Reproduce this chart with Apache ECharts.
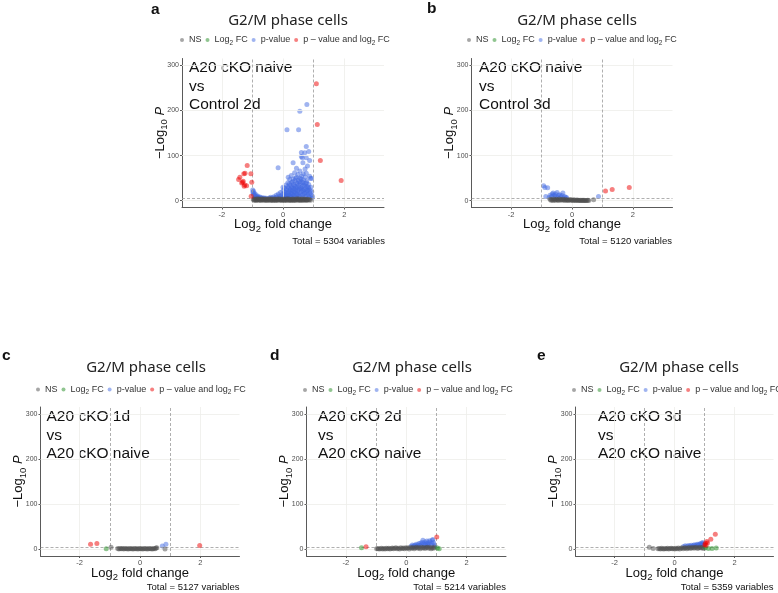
<!DOCTYPE html>
<html><head><meta charset="utf-8">
<script src="https://cdn.jsdelivr.net/npm/echarts@6/dist/echarts.min.js"></script>
<style>html,body{margin:0;padding:0;background:#fff}#c{width:778px;height:593px}</style>
</head><body><div id="c"></div>
<script>
// ---------------- data ----------------
const panelLetters = ['a','b','c','d','e'];
const titleText = 'G2/M phase cells';
const compareTop = ['A20 cKO naive','A20 cKO naive','A20 cKO 1d','A20 cKO 2d','A20 cKO 3d'];
const compareBottom = ['Control 2d','Control 3d','A20 cKO naive','A20 cKO naive','A20 cKO naive'];
const totals = [5304, 5120, 5127, 5214, 5359];
const xTicks = [-2, 0, 2];
const yTicks = [0, 100, 200, 300];
const fcCutoffs = [-1, 1];
const pCutoff = 5;
const categories = ['NS', 'Log2 FC', 'p-value', 'p – value and log2 FC'];

// panel a
const nsA = [[-0.97,3.2],[-0.95,1.1],[-0.93,4.1],[-0.91,2.3],[-0.89,0.6],[-0.87,3.5],[-0.85,1.8],[-0.83,4.4],[-0.81,0.9],[-0.79,2.7],[-0.77,3.9],[-0.75,1.4],[-0.73,0.4],[-0.71,2.9],[-0.69,4.2],[-0.67,1.6],[-0.65,3.3],[-0.63,0.8],[-0.61,2.1],[-0.59,4.0],[-0.57,1.2],[-0.55,3.0],[-0.53,0.5],[-0.51,2.5],[-0.49,3.8],[-0.47,1.0],[-0.45,2.8],[-0.43,4.3],[-0.41,0.7],[-0.39,2.0],[-0.37,3.6],[-0.35,1.5],[-0.33,0.3],[-0.31,2.6],[-0.29,4.1],[-0.27,1.3],[-0.25,3.1],[-0.23,0.6],[-0.21,2.2],[-0.19,3.9],[-0.17,1.1],[-0.15,2.9],[-0.13,4.4],[-0.11,0.8],[-0.09,1.9],[-0.07,3.4],[-0.05,1.4],[-0.03,0.4],[-0.01,2.7],[0.01,4.0],[0.03,1.2],[0.05,3.2],[0.07,0.7],[0.09,2.3],[0.11,3.7],[0.13,1.0],[0.15,2.8],[0.17,4.2],[0.19,0.5],[0.21,2.0],[0.23,3.5],[0.25,1.6],[0.27,0.3],[0.29,2.5],[0.31,4.1],[0.33,1.1],[0.35,3.0],[0.37,0.6],[0.39,2.1],[0.41,3.8],[0.43,1.3],[0.45,2.7],[0.47,4.3],[0.49,0.9],[0.51,2.2],[0.53,3.6],[0.55,1.5],[0.57,0.4],[0.59,2.6],[0.61,4.0],[0.63,1.2],[0.65,3.1],[0.67,0.8],[0.69,2.4],[0.71,3.7],[0.73,1.4],[0.75,2.9],[0.77,0.5],[0.79,2.0],[0.81,3.5],[0.84,1.6],[0.87,2.8],[0.9,1.0]];
const fcA = [];
const pA = [[-0.99,24],[-0.98,19],[-0.97,15],[-0.96,21],[-0.95,12],[-0.94,9],[-0.93,16],[-0.91,11],[-0.9,7],[-0.88,13],[-0.86,9],[-0.84,6.5],[-0.82,10],[-0.8,7.5],[-0.78,6],[-0.75,8],[-0.72,5.8],[-0.68,6.5],[-0.64,5.5],[-0.6,6.2],[-0.55,5.6],
  [-0.45,6],[-0.4,7.5],[-0.35,6.2],[-0.3,9],[-0.27,6.5],[-0.22,12],[-0.2,8],[-0.16,73],[-0.15,15],[-0.12,10],[-0.1,6.5],[-0.08,18],[-0.05,12],[-0.03,8],[0,22],[0,30],[0.02,15],[0.04,9],[0.05,28],[0.07,18],[0.08,12],[0.1,35],[0.1,7],[0.12,24],[0.13,157],[0.14,16],[0.15,10],[0.16,40],[0.17,52],[0.18,29],[0.19,20],[0.2,13],[0.21,8],[0.22,47],[0.23,34],[0.24,25],[0.25,17],[0.26,11],[0.27,56],[0.28,40],[0.29,30],[0.3,22],[0.31,14],[0.32,8],[0.33,84],[0.33,48],[0.34,36],[0.35,27],[0.36,19],[0.37,12],[0.38,62],[0.39,44],[0.4,32],[0.41,24],[0.42,16],[0.43,9],[0.44,72],[0.44,52],[0.45,40],[0.46,30],[0.47,21],[0.48,13],[0.49,58],[0.5,46],[0.51,157],[0.51,35],[0.52,26],[0.53,18],[0.54,10],[0.55,198],[0.55,66],[0.56,50],[0.57,38],[0.58,28],[0.59,20],[0.6,107],[0.6,98],[0.61,55],[0.62,42],[0.63,95],[0.63,32],[0.64,23],[0.65,84],[0.65,14],[0.66,60],[0.67,46],[0.68,35],[0.69,25],[0.7,16],[0.71,106],[0.72,70],[0.73,52],[0.74,38],[0.75,28],[0.76,120],[0.76,95],[0.76,61],[0.77,18],[0.78,213],[0.78,44],[0.79,31],[0.8,77],[0.81,22],[0.82,12],[0.84,109],[0.84,36],[0.85,26],[0.87,89],[0.87,54],[0.88,17],[0.9,50],[0.91,30],[0.93,49],[0.94,20],[0.96,10],
  [0.03,11],[0.06,20],[0.09,14],[0.11,26],[0.13,9],[0.15,31],[0.17,19],[0.19,11],[0.21,37],[0.23,22],[0.25,9],[0.27,28],[0.29,16],[0.31,42],[0.33,24],[0.35,11],[0.37,33],[0.39,20],[0.41,50],[0.43,28],[0.45,15],[0.47,38],[0.49,24],[0.51,9],[0.53,42],[0.55,30],[0.57,15],[0.59,48],[0.61,26],[0.63,12],[0.65,40],[0.67,22],[0.69,8],[0.71,33],[0.73,19],[0.75,10],[0.77,40],[0.79,24],[0.81,14],[0.83,30],[0.86,8],[0.89,22],[0.92,12],[0.95,6]];
const bothA = [[-1.45,47],[-1.41,52],[-1.35,39],[-1.32,41],[-1.3,43],[-1.28,60],[-1.27,32],[-1.25,35],[-1.24,61],[-1.19,33],[-1.17,78],[-1.05,60],[-1.02,41],[-1.04,10],[1.09,259],[1.12,169],[1.22,89],[1.9,45]];

// panel b
const nsB = [[-0.72,3.5],[-0.69,1.2],[-0.66,2.8],[-0.63,0.6],[-0.6,3.9],[-0.57,1.8],[-0.54,0.9],[-0.51,3.2],[-0.48,2.1],[-0.45,0.5],[-0.42,3.6],[-0.39,1.4],[-0.36,2.6],[-0.33,0.8],[-0.3,3.3],[-0.27,1.9],[-0.24,0.4],[-0.21,2.9],[-0.18,1.1],[-0.15,2.3],[-0.12,0.7],[-0.09,1.7],[-0.06,2.5],[-0.03,0.9],[0,1.5],[0.03,0.4],[0.06,2.0],[0.09,1.0],[0.12,0.5],[0.15,1.6],[0.18,0.8],[0.21,1.3],[0.24,0.3],[0.27,1.0],[0.3,0.6],[0.33,1.2],[0.36,0.4],[0.39,0.9],[0.42,0.3],[0.45,0.7],[0.48,0.5],[0.52,0.8],[0.55,0.4],[0.71,2.2]];
const fcB = [];
const pB = [[-0.93,33],[-0.89,29.5],[-0.8,29],[-0.86,9.6],[-0.75,7.4],[-0.72,12],[-0.67,9.6],[-0.65,15],[-0.62,17],[-0.6,12],[-0.57,11],[-0.54,15],[-0.52,8],[-0.49,18],[-0.46,7.4],[-0.44,12],[-0.4,13],[-0.37,9],[-0.33,11.8],[-0.3,17],[-0.28,7],[-0.24,9.6],[-0.2,6.5],[-0.18,7.4],[0.87,9.6]];
const bothB = [[1.1,21.5],[1.32,25],[1.88,29.5]];

// panel c
const nsC = [[-0.96,4.4],[-0.74,1.5],[-0.7,0.6],[-0.66,1.8],[-0.62,0.9],[-0.58,1.4],[-0.54,0.4],[-0.5,1.6],[-0.46,0.8],[-0.42,1.3],[-0.38,0.5],[-0.34,1.7],[-0.3,0.9],[-0.26,1.2],[-0.22,0.4],[-0.18,1.5],[-0.14,0.8],[-0.1,1.1],[-0.06,0.5],[-0.02,1.4],[0.02,0.9],[0.06,1.2],[0.1,0.4],[0.14,1.5],[0.18,0.8],[0.22,1.1],[0.26,0.6],[0.3,1.6],[0.34,0.9],[0.38,1.3],[0.42,0.7],[0.46,1.8],[0.5,1.2],[0.53,2.6],[0.56,3.4],[0.83,0.7]];
const fcC = [[-1.12,1.3]];
const pC = [[0.74,7],[0.86,11]];
const bothC = [[-1.64,11],[-1.43,12.5],[1.98,8]];

// panel d
const nsD = [[-0.98,0.8],[-0.94,1.6],[-0.9,0.5],[-0.86,1.2],[-0.82,2.0],[-0.78,0.7],[-0.74,1.5],[-0.7,0.4],[-0.66,1.9],[-0.62,1.0],[-0.58,2.4],[-0.54,0.6],[-0.5,1.7],[-0.46,2.6],[-0.42,0.9],[-0.38,2.0],[-0.34,3.0],[-0.3,1.2],[-0.26,2.4],[-0.22,0.5],[-0.18,3.2],[-0.14,1.6],[-0.1,2.7],[-0.06,0.8],[-0.02,3.5],[0.02,1.9],[0.06,3.0],[0.1,0.6],[0.14,3.8],[0.18,2.2],[0.22,4.0],[0.26,1.0],[0.3,3.4],[0.34,4.3],[0.38,2.0],[0.42,3.7],[0.46,1.2],[0.5,4.5],[0.54,2.8],[0.58,4.1],[0.62,1.5],[0.66,3.6],[0.7,4.6],[0.74,2.3],[0.78,4.2],[0.82,1.1],[0.86,3.3],[0.9,2.0],[0.93,4.4]];
const fcD = [[-1.48,3],[1.09,0.8],[1.03,2.5]];
const pD = [[0.16,6.7],[0.2,9.6],[0.24,6],[0.27,9],[0.3,7.5],[0.33,11],[0.36,6.5],[0.38,9.5],[0.42,12.6],[0.45,8],[0.48,14],[0.5,10],[0.53,15],[0.55,20],[0.58,12],[0.6,7],[0.62,16],[0.64,10],[0.66,12.6],[0.68,18],[0.7,8.5],[0.72,14],[0.75,11],[0.77,19],[0.79,16],[0.82,9],[0.84,13],[0.86,20],[0.88,21.5],[0.9,15],[0.93,10],[0.95,7]];
const bothD = [[-1.33,5.3],[1.01,27]];

// panel e
const nsE = [[-0.84,4.5],[-0.71,1.5],[-0.55,0.8],[-0.51,1.6],[-0.47,0.5],[-0.43,1.9],[-0.39,1.0],[-0.35,0.4],[-0.31,1.7],[-0.27,0.9],[-0.23,2.1],[-0.19,0.6],[-0.15,1.4],[-0.11,2.3],[-0.07,0.8],[-0.03,1.8],[0.01,0.5],[0.05,2.4],[0.09,1.2],[0.13,2.8],[0.17,0.7],[0.21,2.0],[0.25,3.0],[0.29,1.3],[0.33,2.6],[0.37,3.4],[0.41,1.0],[0.45,2.9],[0.49,3.8],[0.53,1.7],[0.57,3.2],[0.61,4.1],[0.65,2.2],[0.69,3.6],[0.73,4.4],[0.77,1.5],[0.81,3.0],[0.85,4.2],[0.89,2.5],[0.93,3.7],[0.97,1.8]];
const fcE = [[1.03,3],[1.13,1.5],[1.25,1.5],[1.39,2.5]];
const pE = [[0.3,6],[0.36,7.5],[0.42,6.5],[0.47,8],[0.52,7],[0.56,9],[0.6,6.5],[0.63,8.5],[0.66,10],[0.7,7.5],[0.73,9.5],[0.76,11],[0.79,8],[0.82,10.5],[0.85,12],[0.87,9],[0.9,13],[0.92,11],[0.94,15],[0.96,12],[0.98,9]];
const bothE = [[1.01,10],[1.03,13],[1.05,9],[1.08,17],[1.1,14],[1.21,22],[1.36,33]];

const panelData = [
  [nsA, fcA, pA, bothA],
  [nsB, fcB, pB, bothB],
  [nsC, fcC, pC, bothC],
  [nsD, fcD, pD, bothD],
  [nsE, fcE, pE, bothE]
];

// ---------------- layout / style ----------------
const COLORS = ['#4D4D4D', '#228B22', '#4169E1', '#EE0000'];
const ZORDER = [5, 6, 4, 7];
const LAYOUT = [
  {grid:{left:182, top:58.5, width:202, height:149}, title:[288,21], legend:[180,35.5], label:[189,58.5], letter:[151,10], caption:[385,241]},
  {grid:{left:471.5, top:58.5, width:201, height:149}, title:[577,21], legend:[467,35.5], label:[479,58.5], letter:[427,8.5], caption:[672,241]},
  {grid:{left:40.5, top:407, width:199, height:149}, title:[146,367.5], legend:[36,385], label:[46.5,407.5], letter:[2,355.5], caption:[239.5,587]},
  {grid:{left:306.5, top:407, width:199.5, height:149}, title:[412,367.5], legend:[303,385.5], label:[318,407.5], letter:[270,355.5], caption:[506,587]},
  {grid:{left:575.5, top:407, width:198, height:149}, title:[679,367.5], legend:[572,385.5], label:[598,407.5], letter:[537,355.5], caption:[773.5,587]}
];
const FONT_SANS = '"Liberation Sans", Arial, sans-serif';
const FONT_TITLE = '"Noto Sans", "Open Sans", sans-serif';

const legendLabel = {
  'NS': '{t|NS}',
  'Log2 FC': '{t|Log}{s|2}{t| FC}',
  'p-value': '{t|p-value}',
  'p – value and log2 FC': '{t|p – value and log}{s|2}{t| FC}'
};

const grids = [], xAxes = [], yAxes = [], series = [], legends = [], graphics = [];

LAYOUT.forEach((L, i) => {
  grids.push(Object.assign({outerBoundsMode:'none', containLabel:false}, L.grid));
  xAxes.push({
    type:'value', gridIndex:i, min:-3.3, max:3.3,
    axisLine:{show:true, onZero:false, lineStyle:{color:'#5a5a5a', width:1}},
    axisTick:{show:true, length:2, customValues:xTicks, lineStyle:{color:'#5a5a5a'}},
    axisLabel:{customValues:xTicks, fontSize:7.5, color:'#4d4d4d', margin:3, fontFamily:FONT_SANS},
    splitLine:{show:false}
  });
  yAxes.push({
    type:'value', gridIndex:i, min:-15, max:315,
    axisLine:{show:true, onZero:false, lineStyle:{color:'#5a5a5a', width:1}},
    axisTick:{show:true, length:2, customValues:yTicks, lineStyle:{color:'#5a5a5a'}},
    axisLabel:{customValues:yTicks, fontSize:7, color:'#4d4d4d', margin:3, fontFamily:FONT_SANS},
    splitLine:{show:false}
  });
  series.push({
    type:'scatter', name:'grid'+i, xAxisIndex:i, yAxisIndex:i, data:[], silent:true, z:1,
    markLine:{silent:true, symbol:['none','none'], label:{show:false}, animation:false,
      lineStyle:{type:'solid', color:'#eeeeea', width:0.8},
      data: xTicks.map(v => ({xAxis:v})).concat(yTicks.map(v => ({yAxis:v})))}
  });
  series.push({
    type:'scatter', name:'cut'+i, xAxisIndex:i, yAxisIndex:i, data:[], silent:true, z:2,
    markLine:{silent:true, symbol:['none','none'], label:{show:false}, animation:false,
      lineStyle:{type:[3,2], color:'#9a9a9a', width:0.8},
      data: fcCutoffs.map(v => ({xAxis:v})).concat([{yAxis:pCutoff}])}
  });
  categories.forEach((name, k) => {
    series.push({
      type:'scatter', name:name, xAxisIndex:i, yAxisIndex:i, data:panelData[i][k],
      symbol:'circle', symbolSize:5, z:ZORDER[k],
      itemStyle:{color:COLORS[k], opacity:0.5}, silent:true, animation:false
    });
  });
  legends.push({
    data:categories, left:L.legend[0], top:L.legend[1], width:320, orient:'horizontal',
    icon:'circle', itemWidth:4, itemHeight:4, itemGap:4, selectedMode:false, padding:0,
    formatter: n => legendLabel[n],
    textStyle:{fontSize:9, color:'#333', fontFamily:FONT_SANS,
      rich:{t:{fontSize:9, color:'#333', fontFamily:FONT_SANS},
            s:{fontSize:6.5, color:'#333', fontFamily:FONT_SANS, padding:[6,0,0,0]}}}
  });
  const g = L.grid;
  graphics.push({type:'text', x:L.title[0], y:L.title[1], silent:true,
    style:{text:titleText, font:'15px ' + FONT_TITLE, fill:'#222', textAlign:'center', textVerticalAlign:'middle'}});
  graphics.push({type:'text', x:L.letter[0], y:L.letter[1], silent:true,
    style:{text:panelLetters[i], font:'bold 15.5px ' + FONT_SANS, fill:'#111', textAlign:'left', textVerticalAlign:'middle'}});
  graphics.push({type:'text', x:L.label[0], y:L.label[1], silent:true,
    style:{text:compareTop[i] + '\nvs\n' + compareBottom[i], font:'15.5px ' + FONT_SANS, lineHeight:18.5, fill:'#111', textAlign:'left', textVerticalAlign:'top'}});
  graphics.push({type:'text', x:L.caption[0], y:L.caption[1], silent:true,
    style:{text:'Total = ' + totals[i] + ' variables', font:'9.5px ' + FONT_SANS, fill:'#111', textAlign:'right', textVerticalAlign:'middle'}});
  graphics.push({type:'text', x:g.left + g.width/2, y:g.top + g.height + 17, silent:true,
    style:{text:'{t|Log}{s|2}{t| fold change}', textAlign:'center', textVerticalAlign:'middle',
      rich:{t:{fontSize:13, fontFamily:FONT_SANS, fill:'#111'}, s:{fontSize:9.5, fontFamily:FONT_SANS, fill:'#111', padding:[9,0,0,0]}}}});
  graphics.push({type:'text', x:g.left - 22, y:g.top + g.height/2, rotation:Math.PI/2, silent:true,
    style:{text:'{t|\u2212Log}{s|10}{i| P}', textAlign:'center', textVerticalAlign:'middle',
      rich:{t:{fontSize:13, fontFamily:FONT_SANS, fill:'#111'}, s:{fontSize:9.5, fontFamily:FONT_SANS, fill:'#111', padding:[9,0,0,0]},
            i:{fontSize:13, fontFamily:FONT_SANS, fontStyle:'italic', fill:'#111'}}}});
});

const chart = echarts.init(document.getElementById('c'), null, {renderer:'canvas'});
chart.setOption({
  animation:false,
  backgroundColor:'#ffffff',
  grid:grids, xAxis:xAxes, yAxis:yAxes, legend:legends, series:series, graphic:graphics
});
</script></body></html>
